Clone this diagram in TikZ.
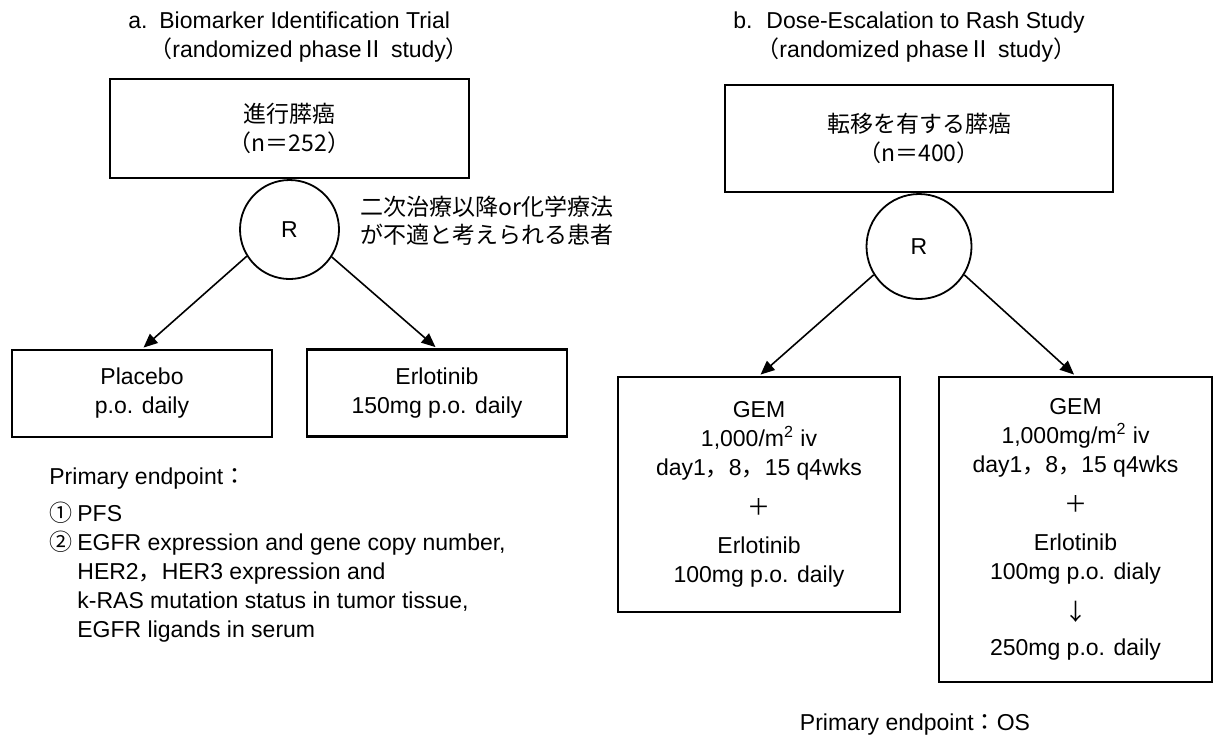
\documentclass[tikz,border=0pt]{standalone}
\usepackage{fontspec}
\setmainfont{Liberation Sans}
\newfontfamily\jp{Noto Sans CJK JP}
\usetikzlibrary{arrows.meta, positioning}

\begin{document}
\begin{tikzpicture}[
    x=0.5pt, y=-0.5pt,
    every node/.style={font=\fontsize{11.5}{14.5}\selectfont, inner sep=0pt},
    box/.style={draw, line width=1.1pt, align=center},
    rnode/.style={draw, circle, line width=0.9pt, minimum size=#1},
    arr/.style={-{Triangle[length=7pt, width=6pt]}, line width=0.8pt, shorten >=1pt},
    title/.style={anchor=west},
    note/.style={anchor=west, align=left},
    jptext/.style={font=\jp\fontsize{11.5}{14}\selectfont}
  ]
  \useasboundingbox (0,0) rectangle (1214,736);

  % a. Biomarker Identification Trial
  \node[title] (ta) at (128,37) {\begin{tabular}{@{}l@{}l@{}}\makebox[15.5pt][l]{a.} & Biomarker Identification Trial\\
      & \kern-5pt{\jp （}randomized phase{\jp Ⅱ} study{\jp ）}\end{tabular}};
  \node[box, minimum width=179.5pt, minimum height=49.5pt] (pa) at (289.5,128.5)
    {{\jp 進行膵癌}\\{\jp （n＝252）}};
  \node[rnode=49.5pt, below=0pt of pa] (ra) {R};
  \node[note, jptext] (cond) at (360,221) {二次治療以降or化学療法\\が不適と考えられる患者};
  \node[box, minimum width=130pt, minimum height=43.5pt] (placebo) at (142,393.5)
    {Placebo\\p.o. daily};
  \node[box, minimum width=130pt, minimum height=43.5pt] (erl) at (437,393)
    {Erlotinib\\150mg p.o. daily};
  \draw[arr] (ra.212) -- (placebo.north);
  \draw[arr] (ra.327) -- (erl.north);
  % endpoints of trial a
  \node[note] (epa) at (49,555) {\begin{tabular}{@{}l@{}l@{}}\multicolumn{2}{@{}l@{}}{Primary endpoint{\jp ：}}\\[4pt]
      \makebox[14pt][l]{\jp ①} & PFS\\
      \makebox[14pt][l]{\jp ②} & EGFR expression and gene copy number,\\
      & HER2{\jp ，}HER3 expression and\\
      & k-RAS mutation status in tumor tissue,\\
      & EGFR ligands in serum\end{tabular}};

  % b. Dose-Escalation to Rash Study
  \node[title] (tb) at (733,37) {\begin{tabular}{@{}l@{}l@{}}\makebox[16.5pt][l]{b.} & Dose-Escalation to Rash Study\\
      & \kern-5pt{\jp （}randomized phase{\jp Ⅱ} study{\jp ）}\end{tabular}};
  \node[box, minimum width=194pt, minimum height=53.5pt] (pb) at (919,138.5)
    {{\jp 転移を有する膵癌}\\{\jp （n＝400）}};
  \node[rnode=52.5pt, below=0pt of pb] (rb) {R};
  \node[box, minimum width=141pt, minimum height=117.5pt] (armA) at (759,494.5)
    {GEM\\1,000/m\textsuperscript{2} iv\\day1{\jp ，}8{\jp ，}15 q4wks\\[5.5pt]
     {\jp ＋}\\[4.5pt]Erlotinib\\100mg p.o. daily};
  \node[box, minimum width=136.5pt, minimum height=152.5pt] (armB) at (1075.5,529.5)
    {GEM\\1,000mg/m\textsuperscript{2} iv\\day1{\jp ，}8{\jp ，}15 q4wks\\[5.5pt]
     {\jp ＋}\\[4.5pt]Erlotinib\\100mg p.o. dialy\\[6pt]{\jp ↓}\\[3pt]250mg p.o. daily};
  \draw[arr] (rb.212) -- (armA.north);
  \draw[arr] (rb.328) -- (armB.north);
  \node (epb) at (915,725) {Primary endpoint{\jp ：}OS};
\end{tikzpicture}
\end{document}
